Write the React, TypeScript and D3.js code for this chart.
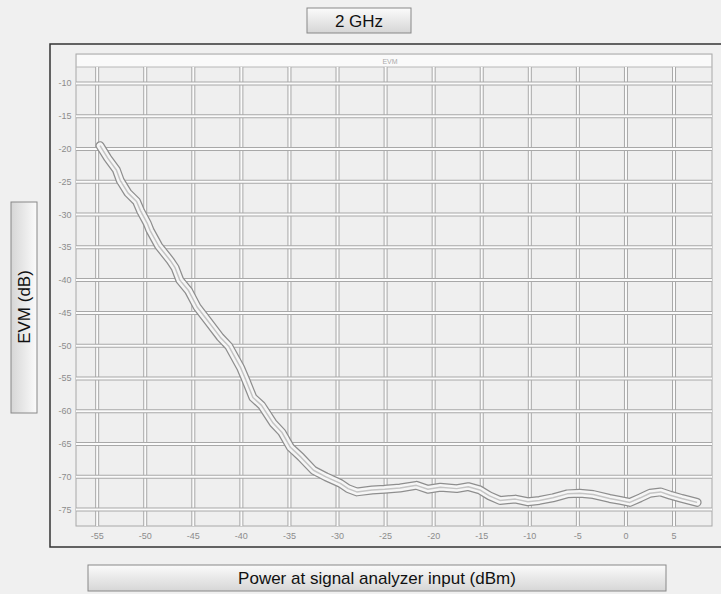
import React from "react";
import * as d3 from "d3";

// tick values (labels are barely legible in the source, estimated)
const xTicks = [-55, -50, -45, -40, -35, -30, -25, -20, -15, -10, -5, 0, 5];
const yTicks = [-10, -15, -20, -25, -30, -35, -40, -45, -50, -55, -60, -65, -70, -75];

const powerDbm = [
  -54.7, -53.9, -53.0, -52.6, -51.8, -50.9, -50.5, -49.8, -49.5, -48.6, -47.4, -46.9,
  -46.4, -45.5, -44.6, -43.6, -42.2, -41.3, -40.1, -39.6, -38.8, -37.9, -36.7, -35.8,
  -34.9, -33.8, -32.5, -31.2, -29.7, -28.9, -28.0, -26.4, -25.1, -23.5, -21.8, -20.6,
  -19.3, -17.6, -16.4, -15.2, -14.2, -13.1, -11.5, -10.2, -9.0, -7.6, -6.1, -4.8,
  -3.4, -1.7, -0.6, 0.4, 1.5, 2.5, 3.6, 4.6, 5.8, 7.4,
];
const evmDb = [
  -19.5, -21.4, -23.2, -24.8, -26.7, -28.0, -29.4, -31.3, -32.4, -34.8, -37.0, -38.1,
  -40.0, -41.6, -44.1, -46.0, -48.7, -50.1, -53.3, -55.0, -57.9, -59.1, -61.8, -63.2,
  -65.5, -67.0, -69.0, -70.0, -71.0, -71.8, -72.3, -72.0, -71.9, -71.7, -71.3, -71.9,
  -71.6, -71.8, -71.5, -72.0, -72.9, -73.6, -73.4, -73.8, -73.6, -73.2, -72.6, -72.5,
  -72.7, -73.3, -73.6, -73.9, -73.2, -72.5, -72.3, -72.8, -73.3, -73.9,
];

const W = 721;
const H = 594;
const font = "'Liberation Sans', Arial, sans-serif";

export default function App() {
  const plot = { left: 76, right: 712, top: 67, bottom: 526 };

  const x = d3.scaleLinear().domain([-57.2, 8.95]).range([plot.left, plot.right]);
  const y = d3.scaleLinear().domain([-77.5, -7.5]).range([plot.bottom, plot.top]);

  const pts = powerDbm.map((p, i) => [p, evmDb[i]] as [number, number]);
  const line = d3
    .line<[number, number]>()
    .x((d) => x(d[0]))
    .y((d) => y(d[1]));
  const path = line(pts) || "";

  return (
    <svg
      width={W}
      height={H}
      style={{ position: "absolute", left: 0, top: 0, background: "#f0f0f0" }}
    >
      <defs>
        <linearGradient id="boxGrad" x1="0" y1="0" x2="0" y2="1">
          <stop offset="0" stopColor="#fbfbfb" />
          <stop offset="1" stopColor="#d6d6d6" />
        </linearGradient>
        <linearGradient id="boxGradH" x1="0" y1="0" x2="1" y2="0">
          <stop offset="0" stopColor="#d6d6d6" />
          <stop offset="1" stopColor="#fbfbfb" />
        </linearGradient>
      </defs>

      {/* title */}
      <rect x={307} y={8} width={104} height={25} fill="url(#boxGrad)" stroke="#888" />
      <text x={359} y={27} textAnchor="middle" fontFamily={font} fontSize={17} fill="#111">
        2 GHz
      </text>

      {/* outer panel, runs off the right edge */}
      <rect x={50} y={44} width={690} height={503} fill="#f0f0f0" stroke="#333" strokeWidth={1.5} />

      {/* plot frame + header strip */}
      <rect x={plot.left} y={54} width={plot.right - plot.left} height={plot.bottom - 54} fill="#efefef" stroke="#a8a8a8" />
      <rect x={plot.left + 1} y={55} width={plot.right - plot.left - 2} height={12} fill="#fafafa" />
      <line x1={plot.left} x2={plot.right} y1={plot.top} y2={plot.top} stroke="#b8b8b8" />
      <text x={390} y={64} textAnchor="middle" fontFamily={font} fontSize={7} fill="#aaa">
        EVM
      </text>

      {/* grid */}
      <g>
        {xTicks.map((t) => (
          <g key={"gx" + t}>
            <line x1={x(t)} x2={x(t)} y1={plot.top} y2={plot.bottom} stroke="#a8a8a8" strokeWidth={4} />
            <line x1={x(t)} x2={x(t)} y1={plot.top} y2={plot.bottom} stroke="#fbfbfb" strokeWidth={2} />
          </g>
        ))}
        {yTicks.map((t) => (
          <g key={"gy" + t}>
            <line x1={plot.left} x2={plot.right} y1={y(t)} y2={y(t)} stroke="#a8a8a8" strokeWidth={4} />
            <line x1={plot.left} x2={plot.right} y1={y(t)} y2={y(t)} stroke="#fbfbfb" strokeWidth={2} />
          </g>
        ))}
      </g>

      {/* trace */}
      <path d={path} fill="none" stroke="#8e8e8e" strokeWidth={9} strokeLinejoin="round" strokeLinecap="round" />
      <path d={path} fill="none" stroke="#f6f6f6" strokeWidth={6.5} strokeLinejoin="round" strokeLinecap="round" />
      <path d={path} fill="none" stroke="#c4c4c4" strokeWidth={1.5} strokeLinejoin="round" />

      {/* tick labels */}
      {xTicks.map((t) => (
        <text key={"lx" + t} x={x(t)} y={539} textAnchor="middle" fontFamily={font} fontSize={9} fill="#8c8c8c">
          {t}
        </text>
      ))}
      {yTicks.map((t) => (
        <text key={"ly" + t} x={65} y={y(t) + 3} textAnchor="middle" fontFamily={font} fontSize={9} fill="#8c8c8c">
          {t}
        </text>
      ))}

      {/* y axis label */}
      <rect x={11} y={202} width={26} height={211} fill="url(#boxGradH)" stroke="#888" />
      <text
        transform={`translate(30 ${307}) rotate(-90)`}
        textAnchor="middle"
        fontFamily={font}
        fontSize={17}
        fill="#111"
      >
        EVM (dB)
      </text>

      {/* x axis label */}
      <rect x={88} y={565} width={578} height={26} fill="url(#boxGrad)" stroke="#888" />
      <text x={377} y={584} textAnchor="middle" fontFamily={font} fontSize={17} fill="#111">
        Power at signal analyzer input (dBm)
      </text>
    </svg>
  );
}
